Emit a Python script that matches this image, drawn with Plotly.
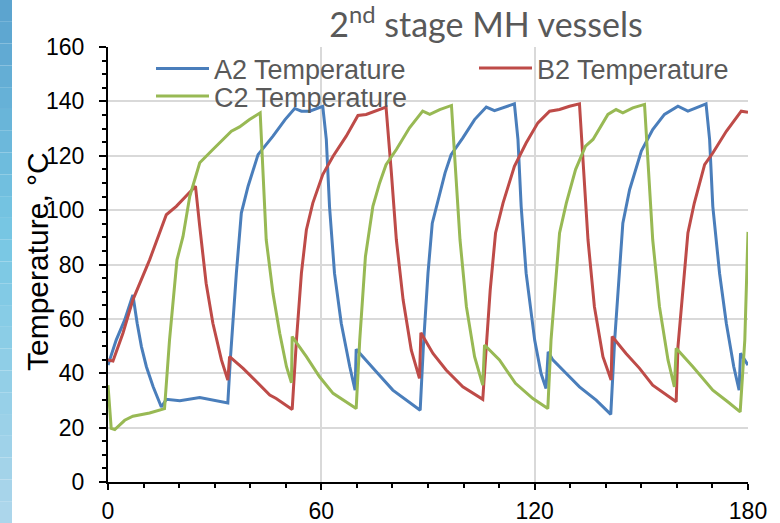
import plotly.graph_objects as go

# ---- data (time, temperature °C) ----
t_a2 = [0, 2.3, 4.7, 7.0, 8.2, 9.4, 10.8, 12.7, 15.0, 16.4, 20.2, 25.8, 33.7, 34.4, 36.1, 37.5, 39.4, 42.2,
        46.4, 49.8, 52.5, 54.4, 56.7, 58.6, 60.4, 61.4, 62.3, 63.7, 65.6, 68.0, 69.5, 69.8, 72.6, 75.9, 80.1,
        83.9, 87.8, 88.7, 90.0, 91.2, 92.8, 94.8, 96.5, 99.8, 103.1, 106.4, 108.7, 111.5, 114.3, 115.3, 116.2,
        117.6, 120.0, 121.8, 123.2, 123.8, 125.1, 128.9, 132.6, 137.3, 141.4, 142.5, 143.7, 144.8, 146.7, 150.0,
        153.2, 156.5, 160.3, 163.1, 165.4, 168.2, 169.2, 170.1, 172.0, 173.9, 176.0, 177.5, 177.9, 180]
temp_a2 = [43.0, 52.2, 59.6, 68.8, 58.4, 49.8, 42.4, 35.0, 27.6, 30.4, 29.9, 31.1, 29.1, 44.9, 76.8, 98.9, 108.8,
           120.4, 127.2, 133.3, 137.4, 136.4, 136.4, 137.4, 138.2, 126.0, 101.4, 76.8, 58.4, 42.4, 33.8, 48.8,
           44.9, 39.9, 33.8, 30.1, 26.4, 50.0, 76.8, 95.2, 103.8, 113.7, 120.4, 126.6, 133.3, 137.9, 136.6, 137.9,
           139.1, 126.0, 101.4, 76.8, 52.2, 39.9, 34.4, 47.9, 44.9, 39.9, 35.0, 30.1, 24.9, 52.2, 76.8, 95.2,
           107.5, 121.7, 129.6, 135.2, 138.2, 136.4, 137.6, 139.1, 126.0, 101.4, 76.8, 58.4, 42.4, 33.8, 47.3, 43.0]

t_b2 = [0, 1.4, 4.2, 7.0, 11.7, 16.4, 19.2, 22.0, 24.6, 25.8, 27.6, 29.5, 31.9, 33.7, 34.2, 38.0, 41.7, 45.5,
        47.3, 51.8, 53.0, 54.4, 55.8, 57.6, 60.4, 63.3, 67.0, 70.3, 72.6, 75.4, 78.2, 79.7, 81.1, 83.0, 85.3,
        87.6, 88.0, 91.4, 95.1, 99.8, 105.4, 106.2, 107.5, 109.0, 111.1, 114.3, 117.6, 120.9, 124.2, 127.0,
        129.8, 132.6, 133.6, 135.0, 136.8, 139.2, 141.5, 141.8, 145.7, 149.5, 153.2, 157.0, 159.8, 160.3,
        161.7, 163.1, 164.9, 167.8, 170.1, 173.9, 178.1, 180]
temp_b2 = [44.9, 44.5, 54.7, 67.0, 81.7, 98.3, 101.4, 105.1, 108.8, 94.0, 73.1, 58.4, 44.9, 37.5, 46.1, 41.8,
           36.9, 32.0, 30.7, 26.7, 52.2, 76.8, 92.8, 102.6, 113.1, 119.8, 127.2, 134.8, 135.2, 136.6, 137.9,
           113.7, 89.1, 67.0, 48.5, 38.1, 54.9, 47.3, 41.2, 35.0, 30.4, 46.1, 70.7, 91.6, 102.6, 116.1, 124.7,
           132.1, 136.4, 137.0, 138.2, 139.1, 119.8, 89.1, 64.5, 46.1, 37.5, 53.5, 47.3, 41.8, 35.6, 32.0, 29.5,
           49.8, 70.7, 91.6, 102.6, 116.7, 121.0, 129.0, 136.4, 136.0]

t_c2 = [0, 0.9, 1.9, 4.7, 7.0, 11.7, 15.9, 17.3, 19.4, 21.1, 23.0, 25.8, 29.5, 32.3, 34.7, 37.0, 39.8, 42.8,
        43.6, 44.5, 46.4, 48.3, 50.2, 51.6, 51.8, 55.8, 59.5, 63.3, 69.8, 70.8, 72.4, 74.5, 76.4, 78.2, 81.1,
        84.8, 88.5, 90.5, 93.3, 96.6, 97.5, 99.0, 100.8, 103.1, 105.4, 105.9, 110.1, 114.6, 119.5, 123.7,
        124.6, 126.0, 127.0, 128.9, 131.5, 134.3, 136.4, 140.6, 142.9, 144.8, 147.6, 150.9, 151.8, 153.2,
        155.1, 157.5, 159.3, 159.8, 164.5, 170.1, 174.3, 177.8, 179.1, 180]
temp_c2 = [35.6, 19.7, 19.3, 22.7, 24.2, 25.4, 27.0, 52.2, 81.7, 90.3, 105.1, 117.4, 122.3, 126.0, 129.0, 130.6,
           133.3, 135.8, 113.7, 89.1, 69.4, 54.7, 42.4, 36.5, 53.5, 46.1, 38.7, 32.6, 27.0, 52.2, 82.9, 101.4,
           110.0, 116.7, 122.3, 130.3, 136.4, 135.2, 137.0, 138.5, 119.8, 89.1, 64.5, 46.1, 35.6, 50.4, 44.9,
           36.3, 30.7, 27.0, 52.2, 76.8, 91.6, 102.6, 114.9, 123.5, 126.0, 135.2, 137.0, 135.8, 137.6, 138.9,
           119.8, 89.1, 64.5, 44.9, 35.0, 49.2, 42.4, 33.8, 29.5, 25.8, 52.2, 92.0]

series_names = ["A2 Temperature", "B2 Temperature", "C2 Temperature"]
series_colors = ["#4a7ebb", "#be4b48", "#98b954"]
title_text = "2<sup>nd</sup> stage MH vessels"
y_title = "Temperature, °C"

W, H = 780, 523
ML, MR, MT, MB = 108, 32, 47, 41
PW, PH = W - ML - MR, H - MT - MB


def px_x(p):  # pixel x -> paper x
    return (p - ML) / PW


def px_y(p):  # pixel y -> paper y
    return (H - MB - p) / PH


fig = go.Figure()
for name, xs, ys, col, lg in zip(series_names, [t_a2, t_b2, t_c2], [temp_a2, temp_b2, temp_c2],
                                 series_colors, ["legend", "legend2", "legend3"]):
    fig.add_trace(go.Scatter(x=xs, y=ys, mode="lines", name=name, legend=lg, showlegend=True,
                             line=dict(color=col, width=3)))

# left slide-background strip (vertical gradient approximated by bands)
top = (92, 164, 207)
mid = (120, 200, 228)
bot = (172, 214, 235)
nb = 24
shapes = []
for i in range(nb):
    f = i / (nb - 1)
    if f < 0.45:
        g = f / 0.45
        c = [int(top[k] + (mid[k] - top[k]) * g) for k in range(3)]
    else:
        g = (f - 0.45) / 0.55
        c = [int(mid[k] + (bot[k] - mid[k]) * g) for k in range(3)]
    shapes.append(dict(type="rect", xref="paper", yref="paper",
                       x0=px_x(0), x1=px_x(12),
                       y0=px_y(i * H / nb), y1=px_y((i + 1) * H / nb),
                       line=dict(width=0), fillcolor="rgb(%d,%d,%d)" % tuple(c), layer="below"))

leg_font = dict(family="Liberation Sans, Arial, sans-serif", size=27, color="#595959")
legend_common = dict(xref="paper", yref="paper", xanchor="left", yanchor="middle", visible=True,
                     bgcolor="rgba(0,0,0,0)", font=leg_font, itemwidth=53, tracegroupgap=0)

fig.update_layout(
    width=W, height=H,
    showlegend=True,
    margin=dict(l=ML, r=MR, t=MT, b=MB, autoexpand=False),
    paper_bgcolor="white", plot_bgcolor="white",
    font=dict(family="Liberation Sans, Arial, sans-serif", color="black"),
    title=dict(text=title_text, x=486 / W, xanchor="center", xref="container",
               y=1 - 25 / H, yanchor="middle", yref="container",
               font=dict(family="Lato, Carlito, Calibri, sans-serif", size=34, color="#595959")),
    legend=dict(x=px_x(151), y=px_y(69), **legend_common),
    legend2=dict(x=px_x(474), y=px_y(68.5), **legend_common),
    legend3=dict(x=px_x(151), y=px_y(96.5), **legend_common),
    shapes=shapes,
    annotations=[dict(text=y_title, textangle=-90, xref="paper", yref="paper",
                      x=px_x(37), y=px_y(262), xanchor="center", yanchor="middle", showarrow=False,
                      font=dict(family="Liberation Sans, Arial, sans-serif", size=30, color="black"))],
    xaxis=dict(range=[0, 180], tickvals=[0, 60, 120, 180], ticks="outside", ticklen=6, tickwidth=2,
               tickcolor="black", showline=True, linecolor="black", linewidth=2,
               showgrid=True, gridcolor="#d9d9d9", gridwidth=2, zeroline=False,
               tickfont=dict(size=23, color="black"), ticklabelstandoff=1,
               minor=dict(dtick=10, tick0=0, ticks="outside", ticklen=4, tickwidth=2,
                          tickcolor="black", showgrid=False)),
    yaxis=dict(range=[0, 160], dtick=20, tick0=0, ticks="outside", ticklen=7, tickwidth=2,
               tickcolor="black", showline=True, linecolor="black", linewidth=2,
               showgrid=True, gridcolor="#d9d9d9", gridwidth=2, zeroline=False,
               tickfont=dict(size=23, color="black"), ticklabelstandoff=10,
               minor=dict(dtick=5, tick0=0, ticks="outside", ticklen=4, tickwidth=2,
                          tickcolor="black", showgrid=False)),
)

fig.write_html("out.html")
